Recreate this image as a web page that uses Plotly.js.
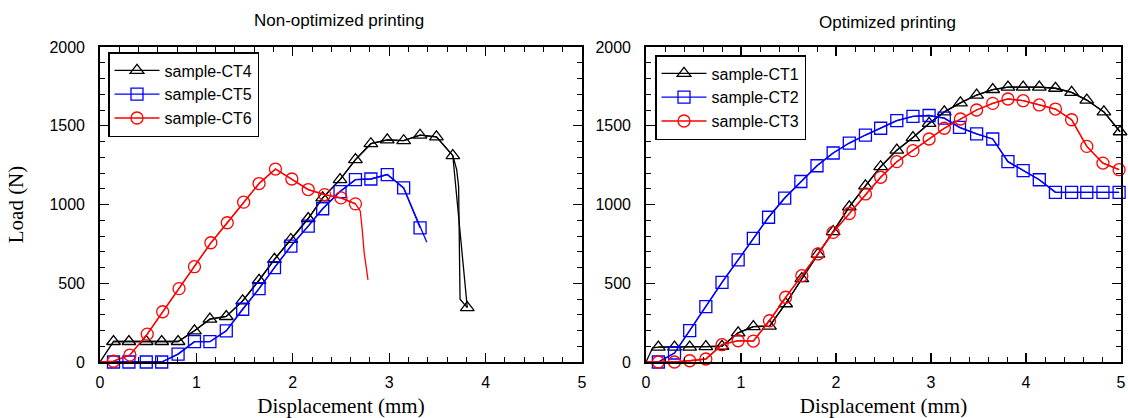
<!DOCTYPE html>
<html>
<head>
<meta charset="utf-8">
<script src="https://cdn.plot.ly/plotly-3.0.1.min.js"></script>
<style>html,body{margin:0;padding:0;background:#fff;}#chart{width:1128px;height:418px;}</style>
</head>
<body>
<div id="chart"></div>
<script>
// ---------- Data ----------
// Left panel: Non-optimized printing
const ct4MarkX = [0.14,0.30,0.48,0.64,0.81,0.98,1.14,1.31,1.48,1.65,1.81,1.98,2.16,2.31,2.49,2.65,2.81,2.98,3.15,3.32,3.49,3.66,3.81];
const ct4MarkY = [130,130,130,130,130,198,272,289,388,519,652,778,911,1042,1158,1285,1386,1410,1405,1440,1430,1310,345];
const ct4LineX = [0,0.14,0.30,0.48,0.64,0.81,0.98,1.14,1.31,1.48,1.65,1.81,1.98,2.16,2.31,2.49,2.65,2.81,2.98,3.15,3.32,3.49,3.66,3.70,3.72,3.735,3.81];
const ct4LineY = [0,130,130,130,130,130,198,272,289,388,519,652,778,911,1042,1158,1285,1386,1410,1405,1440,1430,1310,1221,1116,399,345];

const ct5MarkX = [0.14,0.30,0.48,0.64,0.81,0.98,1.14,1.31,1.48,1.65,1.81,1.98,2.16,2.31,2.49,2.65,2.81,2.98,3.15,3.32];
const ct5MarkY = [0,0,0,0,50,129,129,198,335,466,599,736,863,973,1082,1158,1162,1190,1105,852];
const ct5LineX = [0,0.14,0.30,0.48,0.64,0.81,0.98,1.14,1.31,1.48,1.65,1.81,1.98,2.16,2.31,2.49,2.65,2.81,2.98,3.15,3.20,3.27,3.32,3.39];
const ct5LineY = [0,0,0,0,0,50,129,129,198,335,466,599,736,863,973,1082,1158,1162,1190,1105,1032,926,852,761];

const ct6MarkX = [0.14,0.31,0.49,0.65,0.82,0.98,1.15,1.32,1.49,1.65,1.82,1.99,2.16,2.33,2.50,2.65];
const ct6MarkY = [5,44,177,319,466,605,757,884,1015,1133,1225,1162,1095,1063,1042,1004];
const ct6LineX = [0,0.14,0.31,0.49,0.65,0.82,0.98,1.15,1.32,1.49,1.65,1.82,1.99,2.16,2.33,2.50,2.65,2.70,2.72,2.74,2.78];
const ct6LineY = [0,5,44,177,319,466,605,757,884,1015,1133,1225,1162,1095,1063,1042,1004,958,842,696,521];

// Right panel: Optimized printing
const ct1MarkX = [0.13,0.30,0.46,0.63,0.80,0.97,1.13,1.30,1.47,1.64,1.81,1.97,2.14,2.31,2.47,2.64,2.81,2.98,3.14,3.31,3.48,3.65,3.81,3.97,4.14,4.31,4.48,4.64,4.82,4.99];
const ct1MarkY = [95,95,95,98,100,185,225,228,370,530,685,828,985,1118,1240,1345,1425,1515,1588,1645,1695,1730,1745,1745,1745,1738,1712,1663,1588,1462];
const ct1LineX = [0,0.07].concat(ct1MarkX);
const ct1LineY = [0,90].concat(ct1MarkY);

const ct2MarkX = [0.13,0.30,0.46,0.63,0.80,0.97,1.13,1.29,1.46,1.63,1.80,1.97,2.14,2.31,2.47,2.64,2.81,2.98,3.14,3.30,3.48,3.65,3.81,3.97,4.14,4.31,4.48,4.64,4.81,4.98];
const ct2MarkY = [0,57,199,351,506,648,785,919,1041,1146,1246,1327,1390,1441,1484,1532,1560,1565,1548,1490,1448,1416,1272,1215,1157,1077,1077,1077,1077,1077];
const ct2LineX = [0].concat(ct2MarkX);
const ct2LineY = [0].concat(ct2MarkY);

const ct3MarkX = [0.13,0.30,0.46,0.63,0.80,0.97,1.13,1.30,1.47,1.64,1.81,1.97,2.14,2.31,2.47,2.64,2.81,2.98,3.14,3.31,3.48,3.65,3.81,3.97,4.14,4.31,4.48,4.64,4.81,4.98];
const ct3MarkY = [0,0,8,19,110,135,133,262,411,548,686,823,943,1067,1173,1272,1342,1416,1484,1543,1600,1642,1670,1659,1632,1606,1538,1369,1263,1221];
const ct3LineX = [0].concat(ct3MarkX);
const ct3LineY = [0].concat(ct3MarkY);

const leftTitle = 'Non-optimized printing';
const rightTitle = 'Optimized printing';
const xTitle = 'Displacement (mm)';
const yTitle = 'Load (N)';

// ---------- Build traces ----------
const LW = 1.3;
function series(name, lx, ly, mx, my, color, symbol, xa, ya, leg) {
  return [
    {type:'scatter', mode:'lines', x:lx, y:ly, xaxis:xa, yaxis:ya, showlegend:false,
     line:{color:color, width:LW}, hoverinfo:'skip', cliponaxis:false},
    {type:'scatter', mode:'lines+markers', name:name, x:mx, y:my, xaxis:xa, yaxis:ya, legend:leg,
     line:{color:color, width:LW}, cliponaxis:false,
     marker:{symbol:symbol, size:12, color:color, line:{color:color, width:1.3}}}
  ];
}
const data = [].concat(
  series('sample-CT4', ct4LineX, ct4LineY, ct4MarkX, ct4MarkY, '#000000', 'triangle-up-open', 'x', 'y', 'legend'),
  series('sample-CT5', ct5LineX, ct5LineY, ct5MarkX, ct5MarkY, '#0000ff', 'square-open', 'x', 'y', 'legend'),
  series('sample-CT6', ct6LineX, ct6LineY, ct6MarkX, ct6MarkY, '#ff0000', 'circle-open', 'x', 'y', 'legend'),
  series('sample-CT1', ct1LineX, ct1LineY, ct1MarkX, ct1MarkY, '#000000', 'triangle-up-open', 'x2', 'y2', 'legend2'),
  series('sample-CT2', ct2LineX, ct2LineY, ct2MarkX, ct2MarkY, '#0000ff', 'square-open', 'x2', 'y2', 'legend2'),
  series('sample-CT3', ct3LineX, ct3LineY, ct3MarkX, ct3MarkY, '#ff0000', 'circle-open', 'x2', 'y2', 'legend2')
);

const sans = 'Liberation Sans, Arial, sans-serif';
const tickFont = {family:sans, size:16, color:'#000'};
const serif = {family:'Liberation Serif, Times New Roman, serif', size:21, color:'#000'};
function xAxis(domain, anchor, withTitle) {
  return {domain:domain, anchor:anchor, range:[0,5], dtick:1, tick0:0,
    ticks:'inside', ticklen:9, tickwidth:1.2, tickcolor:'#000',
    minor:{dtick:0.2, ticks:'inside', ticklen:5, tickwidth:1, tickcolor:'#000'},
    showline:true, linecolor:'#000', linewidth:1.8, mirror:'allticks',
    showgrid:false, zeroline:false, tickfont:tickFont, ticklabelstandoff:5,
    title: withTitle ? {text:xTitle, font:serif, standoff:8} : {text:''}};
}
function yAxis(domain, anchor, withTitle) {
  return {domain:domain, anchor:anchor, range:[0,2000], dtick:500, tick0:0,
    ticks:'inside', ticklen:9, tickwidth:1.2, tickcolor:'#000',
    minor:{dtick:100, ticks:'inside', ticklen:5, tickwidth:1, tickcolor:'#000'},
    showline:true, linecolor:'#000', linewidth:1.8, mirror:'allticks',
    showgrid:false, zeroline:false, tickfont:tickFont, ticklabelstandoff:10,
    title: withTitle ? {text:yTitle, font:serif, standoff:20} : {text:''}};
}
const yDom = [ (418-362)/418, (418-47)/418 ];
const legFont = {family:sans, size:16, color:'#000'};
const layout = {
  width:1128, height:418, margin:{l:0, r:0, t:0, b:0},
  paper_bgcolor:'#fff', plot_bgcolor:'#fff',
  xaxis: xAxis([100/1128, 582/1128], 'y', true),
  yaxis: yAxis(yDom, 'x', true),
  xaxis2: xAxis([646/1128, 1121/1128], 'y2', true),
  yaxis2: yAxis(yDom, 'x2', false),
  legend: {x:108/1128, y:(418-52)/418, xanchor:'left', yanchor:'top', bgcolor:'#fff',
           bordercolor:'#000', borderwidth:1.5, font:legFont, itemwidth:45, tracegroupgap:0},
  legend2:{x:655/1128, y:(418-55)/418, xanchor:'left', yanchor:'top', bgcolor:'#fff',
           bordercolor:'#000', borderwidth:1.5, font:legFont, itemwidth:45, tracegroupgap:0},
  annotations:[
    {text:leftTitle, xref:'paper', yref:'paper', x:339/1128, y:(418-20)/418, showarrow:false,
     xanchor:'center', yanchor:'middle', font:{family:sans, size:17, color:'#000'}},
    {text:rightTitle, xref:'paper', yref:'paper', x:887/1128, y:(418-22)/418, showarrow:false,
     xanchor:'center', yanchor:'middle', font:{family:sans, size:17, color:'#000'}}
  ]
};
Plotly.newPlot('chart', data, layout, {displayModeBar:false, staticPlot:true});
</script>
</body>
</html>
